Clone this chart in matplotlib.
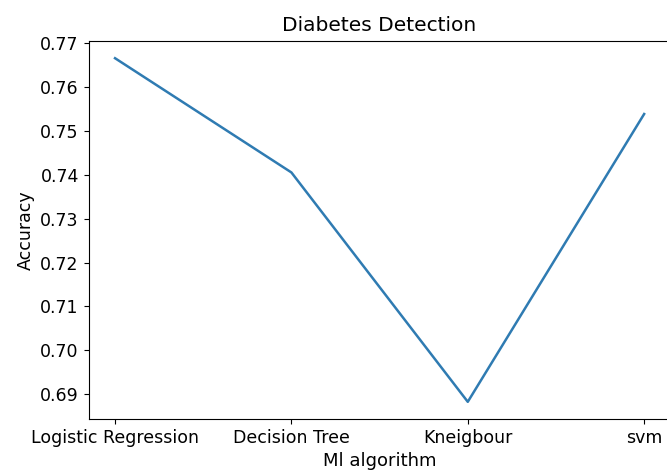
import matplotlib
matplotlib.use('Agg')
import matplotlib.pyplot as plt

# data
algorithms = ['Logistic Regression', 'Decision Tree', 'Kneigbour', 'svm']
accuracy = [0.7665, 0.7405, 0.6883, 0.7538]

fig = plt.figure(figsize=(6.67, 4.71), dpi=100)
# right edge of the axes is cut off in the reference
ax = fig.add_axes([0.1328, 0.1104, 0.8726, 0.8025])
ax.plot(algorithms, accuracy, color='#2f7bb2', linewidth=1.8)

ax.set_title('Diabetes Detection', fontsize=14.5, pad=7)
ax.set_xlabel('Ml algorithm', fontsize=13, labelpad=4)
ax.set_ylabel('Accuracy', fontsize=12.5)
ax.tick_params(labelsize=12.5)

fig.savefig('out.png', dpi=100)
